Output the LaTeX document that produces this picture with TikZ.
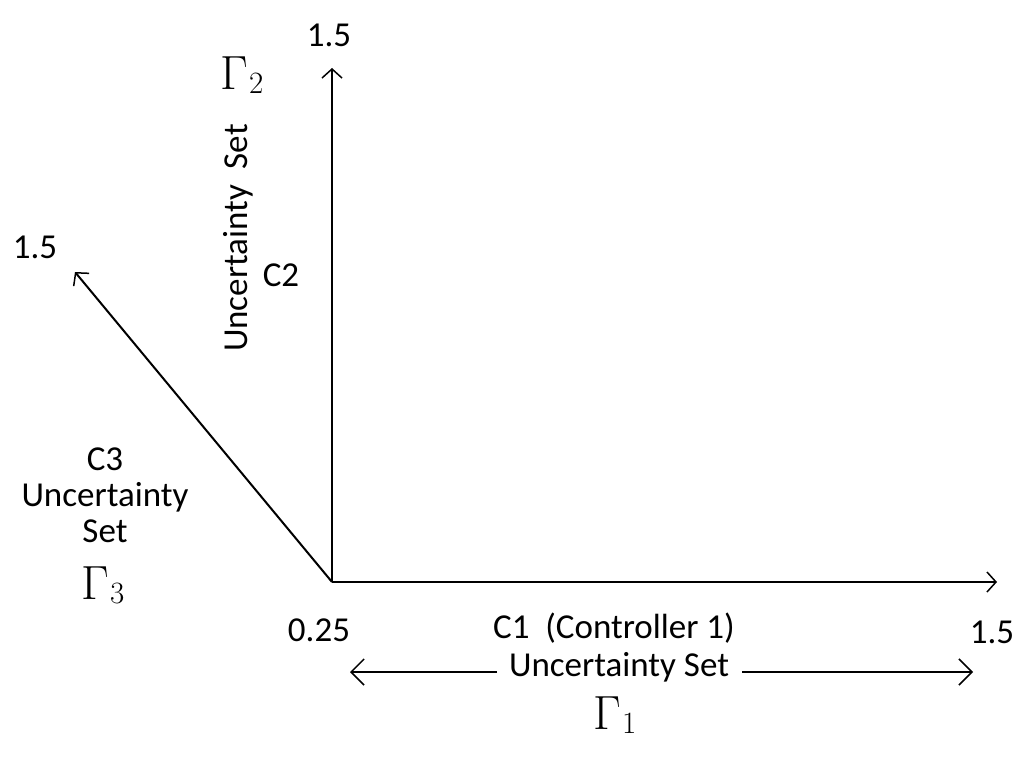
\documentclass[tikz,border=0pt]{standalone}
\usepackage{fontspec}
\setmainfont{Carlito}
\newfontfamily\gamfont{Latin Modern Roman}
\usetikzlibrary{arrows.meta}
\newcommand{\Gam}[1]{{\gamfont\fontsize{48}{50}\selectfont Γ\kern1pt\raisebox{-4pt}{\fontsize{31}{34}\selectfont #1}}}
\begin{document}
\begin{tikzpicture}[x=1pt,y=-1pt,
  axis/.style={line width=2pt,-{Straight Barb[length=9pt,width=20pt,line width=1.5pt]}},
  barb/.style={line width=2pt,-{Straight Barb[length=13pt,width=26pt,line width=1.5pt]}},
  lbl/.style={inner sep=0pt,font=\fontsize{35}{40}\selectfont,align=center},
  gam/.style={inner sep=0pt}]
\useasboundingbox (0,0) rectangle (1024,757);
\coordinate (O) at (332,582);
\coordinate (Y) at (332,68);
\coordinate (X) at (997,582);
\coordinate (D) at (75,272);
\draw[axis] (O) -- (Y);
\draw[axis] (O) -- (X);
\draw[axis] (O) -- (D);
% labels
\node[lbl] (ytop) at (329,35) {1.5};
\node[lbl] (dtop) at (35,247) {1.5};
\node[lbl] (xend) at (992,632) {1.5};
\node[lbl] (zero) at (319,630) {0.25};
\node[gam] (g2) at (242,75) {\Gam{2}};
\node[lbl,rotate=90] (u2) at (238,238) {Uncertainty\ \ Set};
\node[lbl] (c2) at (281,275) {C2};
\node[lbl] (c3) at (105,495) {C3\\[-4pt]Uncertainty\\[-4pt]Set};
\node[gam] (g3) at (103,585) {\Gam{3}};
\node[lbl] (c1) at (614,628) {C1\ \ (Controller 1)};
\node[lbl] (u1) at (619,667) {Uncertainty Set};
\node[gam] (g1) at (615,715) {\Gam{1}};
\coordinate (L) at (350,672);
\coordinate (R) at (973,672);
\coordinate (La) at (497,672);
\coordinate (Ra) at (742,672);
\draw[barb] (La) -- (L);
\draw[barb] (Ra) -- (R);
\end{tikzpicture}
\end{document}
